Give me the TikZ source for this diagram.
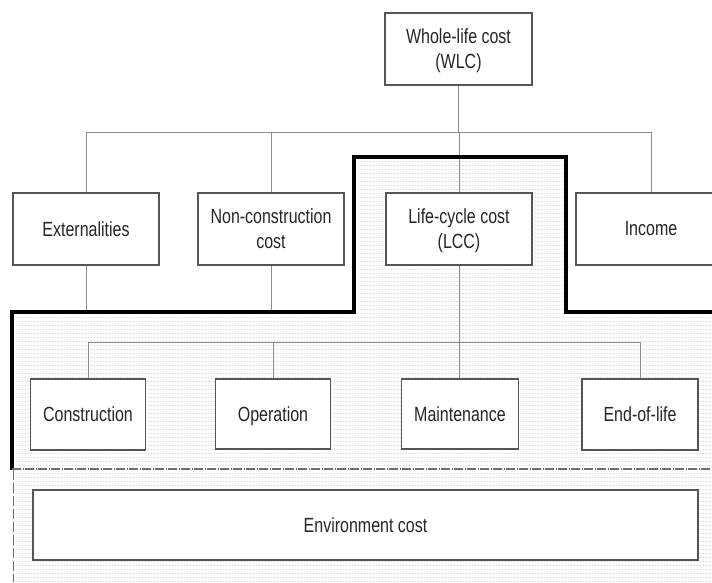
\documentclass[tikz,border=0pt]{standalone}
\usepackage{fontspec}
\setmainfont[FakeStretch=0.78]{Liberation Sans}
\usetikzlibrary{patterns.meta}

\definecolor{boxgray}{HTML}{555555}
\definecolor{linkgray}{HTML}{8C8C8C}
\definecolor{textgray}{HTML}{262626}
\definecolor{dotgray}{HTML}{8E8E8E}
\definecolor{rimgray}{HTML}{6E6E6E}

% light rows of small dots used for the shaded cost areas
\tikzdeclarepattern{
  name=rowdots,
  type=uncolored,
  bounding box={(0pt,0pt) and (3pt,4pt)},
  tile size={(3pt,4pt)},
  code={\fill (1.5pt,2pt) circle (0.6pt);}
}

\begin{document}
\begin{tikzpicture}[x=1pt,y=-1pt,
  costbox/.style={draw=boxgray, line width=1.1pt, fill=white, inner sep=0pt,
    align=center, text=textgray, font=\fontsize{20.5}{25}\selectfont,
    text depth=0.5pt, minimum height=72pt},
  link/.style={draw=linkgray, line width=0.9pt},
  rim/.style={draw=black, line width=3.2pt, line join=miter},
  split/.style={draw=rimgray, line width=1.3pt, dash pattern=on 9pt off 1.5pt on 1pt off 1.5pt},
  edge/.style={draw=rimgray, line width=1pt, dash pattern=on 10pt off 3pt}]

\clip (0,0) rectangle (712,582);
\fill[white] (0,0) rectangle (712,582);

% shaded life-cycle and environment areas
\fill[pattern=rowdots, pattern color=dotgray]
  (12,312) -- (354,312) -- (354,157) -- (566,157) -- (566,312)
  -- (712,312) -- (712,582) -- (12,582) -- cycle;

% cost boxes
\node[costbox, minimum width=147pt] (wlc)   at (458.5,49)  {Whole-life cost\\(WLC)};
\node[costbox, minimum width=146pt] (ext)   at (86,229)    {Externalities};
\node[costbox, minimum width=146pt] (ncc)   at (271,229)   {Non-construction\\cost};
\node[costbox, minimum width=146pt] (lcc)   at (459,229)   {Life-cycle cost\\(LCC)};
\node[costbox, minimum width=150pt] (inc)   at (651,229)   {Income};
\node[costbox, minimum width=115pt, minimum height=71pt] (cons)  at (88,414.5)  {Construction};
\node[costbox, minimum width=115pt, minimum height=70pt] (oper)  at (273,414)   {Operation};
\node[costbox, minimum width=117pt, minimum height=70pt] (maint) at (460,414)   {Maintenance};
\node[costbox, minimum width=116pt, minimum height=71pt] (eol)   at (640,414.5) {End-of-life};
\node[costbox, minimum width=665pt, minimum height=70pt] (env)   at (365.5,525) {Environment cost};

% branch levels
\coordinate (top) at (0,132);
\coordinate (low) at (0,342);
\coordinate (rimline) at (0,312);

% whole-life cost branches
\draw[link] (wlc.south) -- (wlc.south |- top);
\draw[link] (ext.north) -- (ext.north |- top) -| (inc.north);
\draw[link] (ncc.north) -- (ncc.north |- top);
\draw[link] (lcc.north) -- (lcc.north |- top);
\draw[link] (ext.south) -- (ext.south |- rimline);
\draw[link] (ncc.south) -- (ncc.south |- rimline);

% life-cycle cost branches
\draw[link] (lcc.south) -- (lcc.south |- maint.north);
\draw[link] (cons.north) -- (cons.north |- low) -| (eol.north);
\draw[link] (oper.north) -- (oper.north |- low);

% heavy outline of the life-cycle cost scope
\draw[rim] (12,470) -- (12,312) -- (354,312) -- (354,157) -- (566,157)
  -- (566,312) -- (720,312);

% boundary of the environment cost area
\draw[split] (12,469) -- (712,469);
\draw[edge] (13,470) -- (13,582);

\end{tikzpicture}
\end{document}
